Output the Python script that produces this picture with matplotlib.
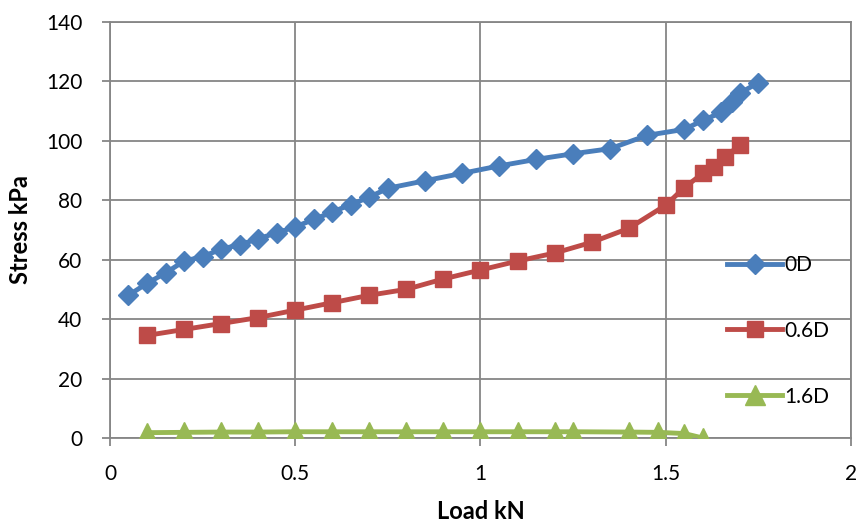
import numpy as np
import matplotlib
matplotlib.use("Agg")
import matplotlib.pyplot as plt

plt.rcParams['font.family'] = ['Lato', 'DejaVu Sans']

# load (kN) and stress (kPa) for each offset
load_0d = [0.05, 0.1, 0.15, 0.2, 0.25, 0.3, 0.35, 0.4, 0.45, 0.5, 0.55, 0.6, 0.65, 0.7,
           0.75, 0.85, 0.95, 1.05, 1.15, 1.25, 1.35, 1.45, 1.55, 1.6, 1.65, 1.68, 1.7, 1.75]
stress_0d = [48, 52, 55.5, 59.5, 61, 63.5, 65, 67, 69, 71, 73.5, 76, 78.5, 81,
             84, 86.5, 89, 91.5, 93.7, 95.6, 97.3, 101.8, 103.8, 106.8, 109.5, 113, 116, 119.5]

load_06d = [0.1, 0.2, 0.3, 0.4, 0.5, 0.6, 0.7, 0.8, 0.9, 1.0, 1.1, 1.2, 1.3, 1.4,
            1.5, 1.55, 1.6, 1.63, 1.66, 1.7]
stress_06d = [34.5, 36.5, 38.5, 40.5, 43, 45.5, 48, 50, 53.5, 56.5, 59.5, 62.2, 65.8, 70.5,
              78.3, 84.2, 89, 91, 94.6, 98.4]

load_16d = [0.1, 0.2, 0.3, 0.4, 0.5, 0.6, 0.7, 0.8, 0.9, 1.0, 1.1, 1.2, 1.25, 1.4,
            1.48, 1.55, 1.6]
stress_16d = [1.8, 1.9, 2.0, 2.0, 2.1, 2.1, 2.1, 2.1, 2.1, 2.1, 2.1, 2.1, 2.1, 2.0,
              1.9, 1.5, 0]

fig = plt.figure(figsize=(8.59, 5.26), dpi=100)
ax = fig.add_axes([0.128, 0.1673, 0.8627, 0.7914])

ax.plot(load_0d, stress_0d, color='#4A7EBB', lw=3.5, marker='D', ms=10,
        label='0D', zorder=5)
ax.plot(load_06d, stress_06d, color='#BE4B48', lw=3.5, marker='s', ms=12,
        label='0.6D', zorder=4)
ax.plot(load_16d, stress_16d, color='#98B954', lw=3.5, marker='^', ms=14,
        label='1.6D', zorder=3)

ax.set_xlim(0, 2)
ax.set_ylim(0, 140)
ax.set_xticks(np.arange(0, 2.01, 0.5))
ax.set_xticklabels(['0', '0.5', '1', '1.5', '2'])
ax.set_yticks(np.arange(0, 141, 20))

ax.grid(True, color='#868686', lw=1.3)
ax.set_axisbelow(True)
for s in ax.spines.values():
    s.set_color('#868686')
    s.set_linewidth(1.3)
ax.tick_params(direction='out', length=6, width=1.3, color='#868686',
               labelsize=15)
ax.tick_params(axis='y', pad=14)
ax.tick_params(axis='x', pad=13)

ax.set_xlabel('Load kN', fontsize=17, fontweight='bold', labelpad=11)
ax.set_ylabel('Stress kPa', fontsize=17, fontweight='bold', labelpad=10)

ax.legend(loc='upper left', bbox_to_anchor=(0.833, 0.44), frameon=False,
          fontsize=15, labelspacing=2.2, handlelength=2.65, handletextpad=0.1,
          borderaxespad=0, borderpad=0)

fig.savefig('out.png', dpi=100)
